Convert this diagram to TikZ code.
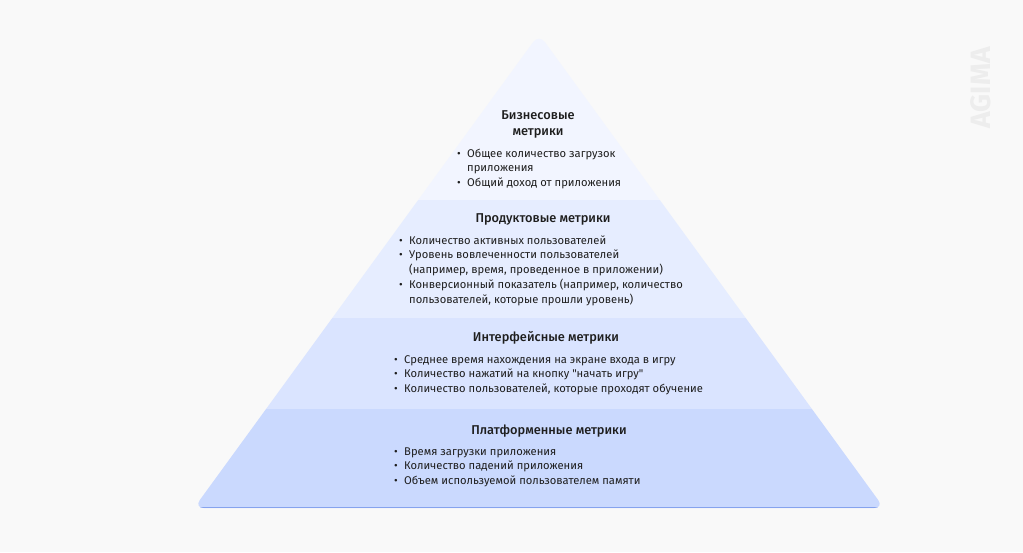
\documentclass[tikz,border=0pt]{standalone}
\usepackage{fontspec}
\setmainfont{Fira Sans}[BoldFont={Fira Sans Medium}]
\newfontfamily\logofont{Fira Sans}
\newfontfamily\itemfont{Fira Sans}
\usepackage{xcolor}
\definecolor{bg}{HTML}{F9F9F9}
\definecolor{tierA}{HTML}{F2F5FF}
\definecolor{tierB}{HTML}{E6EDFF}
\definecolor{tierC}{HTML}{DAE4FF}
\definecolor{tierD}{HTML}{CAD9FE}
\definecolor{rim}{HTML}{86A3EE}
\definecolor{ink}{HTML}{1E1E1E}
\definecolor{mark}{HTML}{EDEDED}
\newlength{\bw}
\setlength{\bw}{10pt}
\newcommand{\bul}{\makebox[\bw][l]{•}}
\newcommand{\cont}{\hspace*{\bw}}

\begin{document}
\begin{tikzpicture}[x=1pt,y=-1pt]
        \tikzstyle{head}=[inner sep=0pt, anchor=base, align=center, text=ink,
            font=\fontsize{12.8}{16}\selectfont\bfseries]
        \tikzstyle{items}=[inner sep=0pt, anchor=base west, align=left, text=ink,
            font=\itemfont\fontsize{11.2}{14.7}\selectfont]
        \useasboundingbox[fill=bg] (0,0) rectangle (1023,552);
        % pyramid
        \begin{scope}
            \clip[rounded corners=10pt] (539,34) -- (884,508) -- (194,508) -- cycle;
            \fill[tierA] (180,20) rectangle (900,200);
            \fill[tierB] (180,200) rectangle (900,318);
            \fill[tierC] (180,318) rectangle (900,409);
            \fill[tierD] (180,409) rectangle (900,520);
            \draw[rim, line width=1.5pt] (180,507.4) -- (900,507.4);
        \end{scope}
        % business (base = last line)
        \node[head] (biz) at (538,135) {Бизнесовые\\метрики};
        \node[items] (bizlist) at (457,186.6) {\bul Общее количество загрузок\\
            \cont приложения\\
            \bul Общий доход от приложения};
        % product
        \node[head] (prod) at (543,222.5) {Продуктовые метрики};
        \node[items] (prodlist) at (399,303) {\bul Количество активных пользователей\\
            \bul Уровень вовлеченности пользователей\\
            \cont (например, время, проведенное в приложении)\\
            \bul Конверсионный показатель (например, количество\\
            \cont пользователей, которые прошли уровень)};
        % interface
        \node[head] (ui) at (546,341.5) {Интерфейсные метрики};
        \node[items] (uilist) at (394,392.6) {\bul Среднее время нахождения на экране входа в игру\\
            \bul Количество нажатий на кнопку "начать игру"\\
            \bul Количество пользователей, которые проходят обучение};
        % platform
        \node[head] (plat) at (549,434.5) {Платформенные метрики};
        \node[items] (platlist) at (394,484.6) {\bul Время загрузки приложения\\
            \bul Количество падений приложения\\
            \bul Объем используемой пользователем памяти};
        % watermark
        \node[inner sep=0pt, rotate=90, text=mark, font=\logofont\fontsize{28}{28}\selectfont\bfseries] (logo) at (981,88) {AGIMA};
    \end{tikzpicture}
\end{document}
